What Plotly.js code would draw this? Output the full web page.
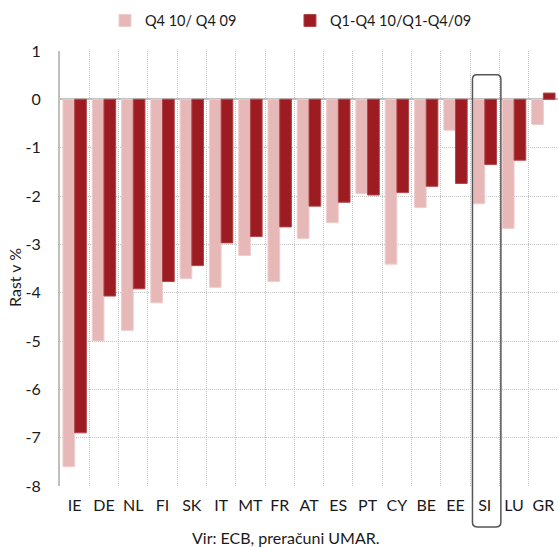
<!DOCTYPE html>
<html><head><meta charset="utf-8">
<script src="https://cdn.plot.ly/plotly-3.0.1.min.js"></script>
<style>html,body{margin:0;padding:0;background:#fff}</style>
</head><body><div id="chart" style="width:558px;height:547px"></div>
<script>
const countries = ['IE','DE','NL','FI','SK','IT','MT','FR','AT','ES','PT','CY','BE','EE','SI','LU','GR'];
const quarterly = [-7.6,-5.0,-4.78,-4.21,-3.71,-3.89,-3.23,-3.77,-2.88,-2.55,-1.95,-3.41,-2.24,-0.64,-2.16,-2.67,-0.52];
const annual = [-6.9,-4.07,-3.92,-3.77,-3.44,-2.97,-2.84,-2.64,-2.21,-2.13,-1.98,-1.93,-1.80,-1.74,-1.35,-1.26,0.13];
const seriesNames = ['Q4 10/ Q4 09','Q1-Q4 10/Q1-Q4/09'];
const yTickVals = [1,0,-1,-2,-3,-4,-5,-6,-7,-8];
const yTickText = ['1','0','-1','-2','-3','-4','-5','-6','-7','-8'];
const yTitle = 'Rast v %';
const sourceText = 'Vir: ECB, preračuni UMAR.';
const highlight = 'SI';

const FONT = 'Lato, "Open Sans", sans-serif';
const TXT = '#1a1a1a';
const traces = [
  {type:'bar', name:seriesNames[0], x:countries, y:quarterly, legend:'legend',
   marker:{color:'#e6b9b8', line:{color:'#efcdcc', width:1}}},
  {type:'bar', name:seriesNames[1], x:countries, y:annual, legend:'legend2',
   marker:{color:'#9c1c22', line:{color:'#b0474b', width:1}}}
];
const gridCol = '#c4c4c4';
const legendBase = {orientation:'h', xanchor:'left', y:1.07, yanchor:'middle',
   font:{family:FONT, size:14.5, color:TXT}, itemwidth:30, bgcolor:'rgba(0,0,0,0)'};
const layout = {
  width:558, height:547,
  margin:{l:60, r:0, t:51, b:61},
  paper_bgcolor:'#fff', plot_bgcolor:'#fff',
  font:{family:FONT, size:16, color:TXT},
  barmode:'group', bargap:0.2, bargroupgap:0,
  showlegend:true,
  legend:Object.assign({}, legendBase, {x:0.0903}),
  legend2:Object.assign({}, legendBase, {x:0.4618}),
  xaxis:{type:'category', range:[-0.5,16.5], tickson:'boundaries', showgrid:true,
         gridcolor:gridCol, griddash:'1px,1px', gridwidth:1, ticks:'', showline:false,
         zeroline:false, ticklabelstandoff:8, tickangle:0, automargin:false, fixedrange:true},
  yaxis:{range:[-8,1], tickvals:yTickVals, ticktext:yTickText, showgrid:true,
         gridcolor:gridCol, griddash:'1px,1px', gridwidth:1, ticks:'', showline:true,
         linecolor:'#bfbfbf', linewidth:2, zeroline:true, zerolinecolor:'#bfbfbf',
         zerolinewidth:2, ticklabelstandoff:14, automargin:false, fixedrange:true},
  annotations:[
    {text:yTitle, textangle:-90, xref:'paper', yref:'paper', x:-0.0904, y:0.4805,
     xanchor:'center', yanchor:'middle', showarrow:false, font:{family:FONT,size:16,color:TXT}},
    {text:sourceText, xref:'paper', yref:'paper', x:0.454, y:-0.1195,
     xanchor:'center', yanchor:'middle', showarrow:false, font:{family:FONT,size:16,color:TXT}}
  ],
  shapes:[]
};
// rounded highlight box around SI
(function(){
  const i = countries.indexOf(highlight);
  const n = countries.length;
  const x0 = (i + 0.08)/n, x1 = (i + 1.05)/n;
  const y0 = -0.094, y1 = 0.9455;
  const rx = 0.009, ry = 0.0105;
  const p = `M ${x0+rx} ${y1} L ${x1-rx} ${y1} Q ${x1} ${y1} ${x1} ${y1-ry} L ${x1} ${y0+ry} Q ${x1} ${y0} ${x1-rx} ${y0} L ${x0+rx} ${y0} Q ${x0} ${y0} ${x0} ${y0+ry} L ${x0} ${y1-ry} Q ${x0} ${y1} ${x0+rx} ${y1} Z`;
  layout.shapes.push({type:'path', xref:'paper', yref:'paper', path:p,
    line:{color:'#555', width:1.5}, fillcolor:'rgba(0,0,0,0)', layer:'above'});
})();
Plotly.newPlot('chart', traces, layout, {displayModeBar:false, staticPlot:true});
</script></body></html>
